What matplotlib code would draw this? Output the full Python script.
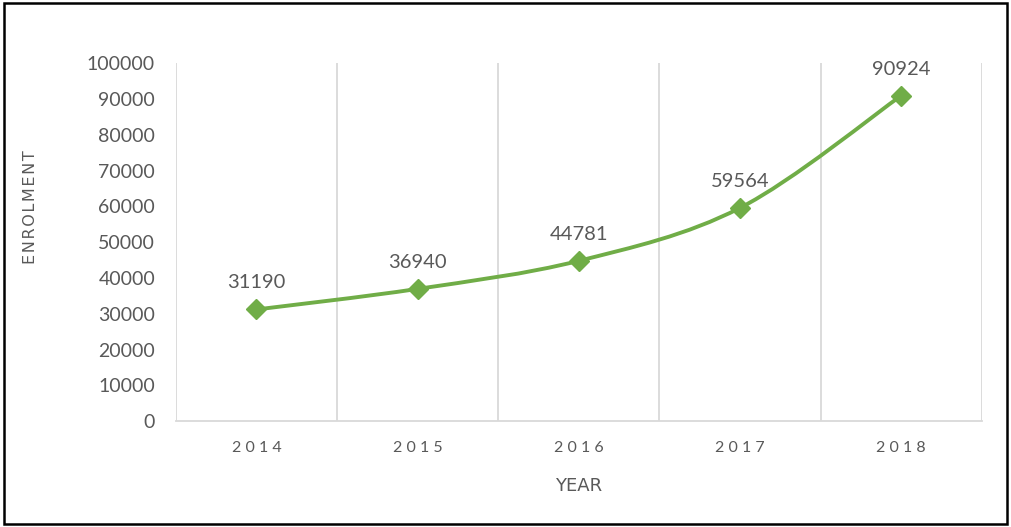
import numpy as np
import matplotlib
matplotlib.use('Agg')
import matplotlib.pyplot as plt
from matplotlib.path import Path
from matplotlib.patches import PathPatch, Rectangle

years = ['2014', '2015', '2016', '2017', '2018']
enrolment = [31190, 36940, 44781, 59564, 90924]

GREEN = '#70AD47'
GRAY_TXT = '#595959'
GRID = '#D9D9D9'

plt.rcParams['font.family'] = ['Lato', 'DejaVu Sans']


def smooth_path(x, y, t=1.0 / 6):
    # Excel-like smoothed line: Catmull-Rom converted to cubic Bezier segments
    x = np.asarray(x, float)
    y = np.asarray(y, float)
    verts = [(x[0], y[0])]
    codes = [Path.MOVETO]
    n = len(x)
    for i in range(n - 1):
        p0 = (x[max(i - 1, 0)], y[max(i - 1, 0)])
        p1 = (x[i], y[i])
        p2 = (x[i + 1], y[i + 1])
        p3 = (x[min(i + 2, n - 1)], y[min(i + 2, n - 1)])
        c1 = (p1[0] + (p2[0] - p0[0]) * t, p1[1] + (p2[1] - p0[1]) * t)
        c2 = (p2[0] - (p3[0] - p1[0]) * t, p2[1] - (p3[1] - p1[1]) * t)
        verts += [c1, c2, p2]
        codes += [Path.CURVE4] * 3
    return Path(verts, codes)


fig = plt.figure(figsize=(10.11, 5.27), dpi=100)
ax = fig.add_axes([0.174, 0.201, 0.797, 0.679])

xs = np.arange(len(years))
ax.add_patch(PathPatch(smooth_path(xs, enrolment), fill=False, edgecolor=GREEN,
                       lw=2.8, capstyle='round', joinstyle='round', zorder=3))
ax.plot(xs, enrolment, linestyle='none', marker='D', markersize=10,
        color=GREEN, zorder=4)

for xi, v in zip(xs, enrolment):
    ax.annotate(str(v), (xi, v), xytext=(0, 13), textcoords='offset points',
                ha='center', va='bottom', fontsize=14.5, color=GRAY_TXT)

ax.set_xlim(-0.5, len(years) - 0.5)
ax.set_ylim(0, 100000)
ax.set_yticks(np.arange(0, 100001, 10000))
ax.set_yticklabels([str(v) for v in range(0, 100001, 10000)])
ax.set_xticks(xs)
ax.set_xticklabels([' '.join(y) for y in years])
ax.set_xticks(np.arange(-0.5, len(years), 1.0), minor=True)
ax.grid(True, which='minor', axis='x', color=GRID, lw=1.3)
ax.tick_params(which='both', length=0)
ax.tick_params(axis='y', labelsize=14, labelcolor=GRAY_TXT, pad=15)
ax.tick_params(axis='x', labelsize=11.5, labelcolor=GRAY_TXT, pad=14)

for side in ['top', 'left', 'right']:
    ax.spines[side].set_visible(False)
ax.spines['bottom'].set_color(GRID)
ax.spines['bottom'].set_linewidth(1.3)

ax.set_xlabel('YEAR', fontsize=13, color=GRAY_TXT, family='DejaVu Sans')
ax.xaxis.set_label_coords(0.5, -0.156)
ax.set_ylabel('E\u200aN\u200aR\u200aO\u200aL\u200aM\u200aE\u200aN\u200aT', fontsize=11.5,
              color=GRAY_TXT, family='DejaVu Sans')
ax.yaxis.set_label_coords(-0.171, 0.598)

# outer frame
fig.patches.append(Rectangle((0.004, 0.005), 0.992, 0.99, transform=fig.transFigure,
                             fill=False, edgecolor='black', lw=1.8))

fig.savefig('out.png', dpi=100)
